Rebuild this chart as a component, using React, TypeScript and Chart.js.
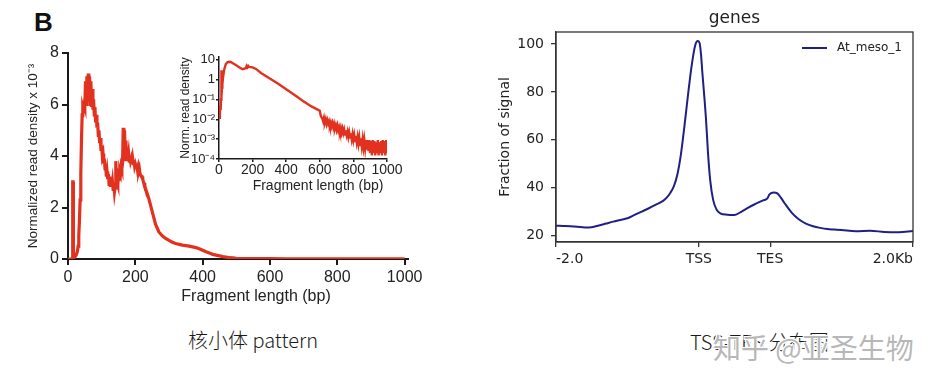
import React, { useEffect, useRef } from "react";
import { Chart, registerables } from "chart.js";
Chart.register(...registerables);

// ---------- Left: fragment length distribution (x 10^-3) ----------
const fragLen = [0,5,10,13,14,15,16,20,24,28,30,32,34,36,38,40,42,44,46,48,50,52,54,56,58,60,62,64,66,68,70,72,74,76,78,80,82,84,86,88,90,92,94,96,98,100,102,104,106,108,110,112,114,116,118,120,122,124,126,128,130,132,134,136,138,140,142,144,146,148,150,152,154,156,158,160,162,164,166,168,170,172,174,176,178,180,182,184,186,188,190,192,194,196,198,200,202,204,206,208,210,212,214,216,218,220,222,224,226,228,230,240,250,260,270,280,290,300,310,320,330,340,350,360,370,380,390,400,410,420,430,440,450,460,470,480,490,500,550,600,650,700,750,800,850,900,950,1000];
const readDensity = [0,0,0,0.02,3.0,3.0,0.05,0.08,0.15,0.3,0.5,0.9,1.5,2.3,3.3,4.6,5.6,5.9,5.8,6.0,5.9,6.9,6.0,7.1,6.1,7.2,6.2,7.1,6.0,6.9,5.9,6.6,5.8,6.2,5.6,5.9,5.3,5.6,5.1,5.3,4.8,5.0,4.5,4.7,4.2,4.4,4.0,4.1,3.7,3.9,3.5,3.6,3.2,3.4,3.1,3.3,2.9,3.2,2.8,3.1,2.8,3.0,2.7,2.9,2.6,2.8,3.8,2.7,3.0,2.9,3.2,3.1,3.4,3.3,3.6,3.5,3.7,5.1,3.8,5.0,3.9,4.6,3.8,4.2,3.9,4.1,3.8,4.0,3.8,3.9,3.7,3.9,3.7,3.8,3.6,3.7,3.6,3.7,3.5,3.6,3.4,3.5,3.3,3.3,3.2,3.2,3.1,3.0,2.95,2.85,2.75,2.35,1.85,1.35,1.05,0.9,0.8,0.72,0.65,0.6,0.57,0.54,0.52,0.5,0.47,0.44,0.4,0.34,0.28,0.23,0.18,0.15,0.12,0.09,0.07,0.05,0.04,0.03,0.02,0.015,0.01,0.008,0.006,0.005,0.004,0.004,0.003,0.003];
const mainXTicks = [0, 200, 400, 600, 800, 1000];
const mainYTicks = [0, 2, 4, 6, 8];

// ---------- Inset: log scale ----------
const insetLen = [0,5,8,10,12,13,14,15,16,18,20,25,30,40,50,60,70,80,100,120,140,160,165,170,175,180,200,220,250,300,350,400,450,500,550,590,600,605,610,615,620,625,630,635,640,645,650,655,660,665,670,675,680,685,690,695,700,705,710,715,720,725,730,735,740,745,750,755,760,765,770,775,780,785,790,795,800,805,810,815,820,825,830,835,840,845,850,855,860,865,870,875,880,885,890,895,900,905,910,915,920,925,930,935,940,945,950,955,960,965,970,975,980,985,990,995,1000];
const insetDensity = [0.012,0.02,0.05,0.03,0.1,2.5,3.0,0.2,0.15,0.4,0.6,1.5,3.0,6.0,7.5,8.0,7.8,7.0,5.5,4.3,3.4,3.8,5.0,4.2,4.9,4.4,4.2,3.5,2.2,1.2,0.65,0.33,0.17,0.085,0.045,0.03,0.027,0.016,0.013,0.011,0.008,0.012,0.007,0.010,0.006,0.009,0.006,0.008,0.005,0.007,0.0045,0.0065,0.004,0.006,0.0035,0.005,0.003,0.0048,0.0028,0.004,0.0025,0.0038,0.0022,0.0034,0.002,0.003,0.0017,0.0028,0.0016,0.0024,0.0013,0.0022,0.0012,0.002,0.001,0.0018,0.0009,0.0016,0.0008,0.0015,0.0007,0.0013,0.0006,0.0012,0.0005,0.0011,0.00045,0.001,0.0004,0.0009,0.00035,0.0009,0.0003,0.0008,0.00025,0.0009,0.0002,0.0008,0.00015,0.0009,0.0002,0.0008,0.00015,0.0007,0.0002,0.0009,0.00015,0.0007,0.0002,0.0008,0.00015,0.0009,0.0002,0.0008,0.00015,0.0009,0.0002];
const insetXTicks = [0, 200, 400, 600, 800, 1000];
const insetYTicks = [1e-4, 1e-3, 1e-2, 1e-1, 1, 10];
const insetYLabels = ["10⁻⁴", "10⁻³", "10⁻²", "10⁻¹", "1", "10"];

// ---------- Right: TSS-TES profile ----------
const profilePos = [0,100,200,300,400,500,600,700,800,900,1000,1100,1200,1300,1400,1500,1550,1600,1650,1700,1750,1800,1850,1900,1950,1985,2010,2030,2050,2080,2100,2130,2160,2200,2250,2300,2400,2500,2600,2700,2800,2900,2960,2990,3050,3100,3150,3200,3300,3400,3500,3600,3700,3800,3900,4000,4200,4400,4600,4800,5000];
const profileSignal = [24.1,24.0,23.9,23.7,23.4,23.5,24.2,25.0,25.8,26.5,27.2,28.6,30.0,31.4,32.9,34.5,35.8,37.8,40.5,45.5,54,66,79,91,99.5,101.2,100.5,96,88,77,69,54,43,35,30.8,29.3,28.7,28.6,30.0,31.8,33.3,34.7,35.5,37.2,38.0,37.6,35.8,33.6,29.6,26.8,25.0,23.9,23.2,22.7,22.5,22.3,21.8,22.0,21.5,21.4,21.9];
const profileTickPos = [0, 2000, 3000, 5000];
const profileTickLabels = ["-2.0", "TSS", "TES", "2.0Kb"];
const profileYTicks = [20, 40, 60, 80, 100];
const profileLabel = "At_meso_1";

const ARIAL = "'Liberation Sans', Arial, sans-serif";
const DEJAVU = "'DejaVu Sans', sans-serif";

const offsetTitle = (text: string, font: string, color: string, dx: number, dy: number) => ({
  id: "offsetTitle",
  afterDraw(chart: any) {
    const { ctx, chartArea } = chart;
    ctx.save();
    ctx.font = font;
    ctx.fillStyle = color;
    ctx.textAlign = "center";
    ctx.textBaseline = "middle";
    ctx.fillText(text, (chartArea.left + chartArea.right) / 2 + dx, chartArea.bottom + dy);
    ctx.restore();
  },
});

const frameAndLegend = {
  id: "frameAndLegend",
  afterDraw(chart: any) {
    const { ctx, chartArea: ca } = chart;
    ctx.save();
    ctx.strokeStyle = "#333";
    ctx.lineWidth = 1.3;
    ctx.strokeRect(ca.left, ca.top, ca.right - ca.left, ca.bottom - ca.top);
    const ds = chart.data.datasets[0];
    const y = ca.top + 16;
    ctx.strokeStyle = ds.borderColor;
    ctx.lineWidth = 2;
    ctx.beginPath();
    ctx.moveTo(ca.right - 111, y);
    ctx.lineTo(ca.right - 86, y);
    ctx.stroke();
    ctx.fillStyle = "#222";
    ctx.font = `12px ${DEJAVU}`;
    ctx.textAlign = "left";
    ctx.textBaseline = "middle";
    ctx.fillText(ds.label, ca.right - 76, y);
    ctx.restore();
  },
};

function axisStyle(color: string, width: number, tickLength: number) {
  return {
    grid: { display: true, drawOnChartArea: false, drawTicks: true, tickLength, color, lineWidth: width },
    border: { display: true, color, width },
  };
}

const plain = (v: any) => String(v);

function mainConfig(): any {
  return {
    type: "line",
    data: {
      datasets: [
        {
          data: fragLen.map((x, i) => ({ x, y: readDensity[i] })),
          borderColor: "#e2321f",
          borderWidth: 3.2,
          pointRadius: 0,
          tension: 0,
        },
      ],
    },
    options: {
      animation: false,
      responsive: false,
      events: [],
      layout: { padding: { left: 0, right: 32, top: 13, bottom: 0 } },
      plugins: { legend: { display: false }, tooltip: { enabled: false } },
      scales: {
        x: {
          type: "linear",
          min: 0,
          max: 1010,
          afterBuildTicks: (s: any) => { s.ticks = mainXTicks.map((v) => ({ value: v })); },
          afterFit: (s: any) => { s.height = 51; },
          ...axisStyle("#1a1a1a", 2, 6),
          ticks: { autoSkip: false, maxRotation: 0, padding: 3, color: "#222", font: { family: ARIAL, size: 16 }, callback: plain },
        },
        y: {
          type: "linear",
          min: 0,
          max: 8,
          afterBuildTicks: (s: any) => { s.ticks = mainYTicks.map((v) => ({ value: v })); },
          afterFit: (s: any) => { s.width = 68; },
          ...axisStyle("#1a1a1a", 2, 6),
          ticks: { autoSkip: false, padding: 3, color: "#222", font: { family: ARIAL, size: 16 }, callback: plain },
          title: {
            display: true,
            text: "Normalized read density x 10⁻³",
            color: "#222",
            font: { family: ARIAL, size: 13.5 },
            padding: { top: 25, bottom: 0 },
          },
        },
      },
    },
    plugins: [offsetTitle("Fragment length (bp)", `16px ${ARIAL}`, "#222", 18, 38)],
  };
}

function insetConfig(): any {
  return {
    type: "line",
    data: {
      datasets: [
        {
          data: insetLen.map((x, i) => ({ x, y: insetDensity[i] })),
          borderColor: "#e2321f",
          borderWidth: 2.4,
          pointRadius: 0,
          tension: 0,
        },
      ],
    },
    options: {
      animation: false,
      responsive: false,
      events: [],
      layout: { padding: { left: 0, right: 33, top: 17, bottom: 0 } },
      plugins: { legend: { display: false }, tooltip: { enabled: false } },
      scales: {
        x: {
          type: "linear",
          min: 0,
          max: 1000,
          afterBuildTicks: (s: any) => { s.ticks = insetXTicks.map((v) => ({ value: v })); },
          afterFit: (s: any) => { s.height = 41; },
          ...axisStyle("#1a1a1a", 1.5, 3),
          ticks: { autoSkip: false, maxRotation: 0, padding: 0, color: "#222", font: { family: ARIAL, size: 14 }, callback: plain },
        },
        y: {
          type: "logarithmic",
          min: 1e-4,
          max: 14,
          afterBuildTicks: (s: any) => { s.ticks = insetYTicks.map((v) => ({ value: v })); },
          afterFit: (s: any) => { s.width = 49; },
          ...axisStyle("#1a1a1a", 1.5, 3),
          ticks: {
            autoSkip: false,
            padding: 1,
            color: "#222",
            font: { family: ARIAL, size: 13 },
            callback: (_v: any, i: number) => insetYLabels[i],
          },
          title: {
            display: true,
            text: "Norm. read density",
            color: "#222",
            font: { family: ARIAL, size: 12 },
            padding: { top: 8, bottom: 0 },
          },
        },
      },
    },
    plugins: [offsetTitle("Fragment length (bp)", `14px ${ARIAL}`, "#222", 15, 27)],
  };
}

function profileConfig(): any {
  return {
    type: "line",
    data: {
      datasets: [
        {
          label: profileLabel,
          data: profilePos.map((x, i) => ({ x, y: profileSignal[i] })),
          borderColor: "#1f1f85",
          borderWidth: 2,
          pointRadius: 0,
          cubicInterpolationMode: "monotone",
        },
      ],
    },
    options: {
      animation: false,
      responsive: false,
      events: [],
      layout: { padding: { left: 0, right: 27, top: 0, bottom: 0 } },
      plugins: {
        legend: { display: false },
        tooltip: { enabled: false },
        title: {
          display: true,
          text: "genes",
          fullSize: false,
          color: "#222",
          font: { family: DEJAVU, size: 17, weight: "normal" },
          padding: { top: 8, bottom: 3.6 },
        },
      },
      scales: {
        x: {
          type: "linear",
          min: 0,
          max: 5000,
          afterBuildTicks: (s: any) => { s.ticks = profileTickPos.map((v) => ({ value: v })); },
          afterFit: (s: any) => { s.height = 48; },
          ...axisStyle("#333", 1.3, 5),
          ticks: {
            autoSkip: false,
            maxRotation: 0,
            align: "inner",
            padding: 4,
            color: "#222",
            font: { family: DEJAVU, size: 14 },
            callback: (_v: any, i: number) => profileTickLabels[i],
          },
        },
        y: {
          type: "linear",
          min: 17.3,
          max: 105,
          afterBuildTicks: (s: any) => { s.ticks = profileYTicks.map((v) => ({ value: v })); },
          afterFit: (s: any) => { s.width = 76; },
          ...axisStyle("#333", 1.3, 5),
          ticks: { autoSkip: false, padding: 7, color: "#222", font: { family: DEJAVU, size: 14 }, callback: plain },
          title: {
            display: true,
            text: "Fraction of signal",
            color: "#222",
            font: { family: DEJAVU, size: 14 },
            padding: { top: 17, bottom: 0 },
          },
        },
      },
    },
    plugins: [frameAndLegend],
  };
}

function ChartBox({ left, top, width, height, make }: { left: number; top: number; width: number; height: number; make: () => any }) {
  const ref = useRef<HTMLCanvasElement | null>(null);
  useEffect(() => {
    const chart = new Chart(ref.current as HTMLCanvasElement, make());
    return () => chart.destroy();
  }, []);
  return (
    <div style={{ position: "absolute", left, top, width, height }}>
      <canvas ref={ref} width={width} height={height} style={{ display: "block", width, height }} />
    </div>
  );
}

export default function App() {
  const caption: React.CSSProperties = {
    position: "absolute",
    fontFamily: "'Noto Sans CJK SC', 'Noto Sans', sans-serif",
    fontWeight: 300,
    fontSize: 20,
    lineHeight: "20px",
    color: "#1a1a1a",
    whiteSpace: "nowrap",
  };
  return (
    <div style={{ position: "absolute", left: 0, top: 0, width: 940, height: 386, background: "#fff", overflow: "hidden" }}>
      <div
        style={{
          position: "absolute",
          left: 34,
          top: 9,
          fontFamily: ARIAL,
          fontWeight: "bold",
          fontSize: 26,
          lineHeight: "26px",
          color: "#111",
        }}
      >
        B
      </div>
      <ChartBox left={0} top={40} width={440} height={270} make={mainConfig} />
      <ChartBox left={170} top={40} width={250} height={160} make={insetConfig} />
      <ChartBox left={480} top={0} width={460} height={290} make={profileConfig} />
      <div style={{ ...caption, left: 188, top: 330 }}>核小体 pattern</div>
      <div style={{ ...caption, left: 690, top: 332 }}>TSS-TES 分布图</div>
      <div
        style={{
          ...caption,
          left: 713,
          top: 333,
          fontSize: 28,
          lineHeight: "28px",
          fontWeight: 400,
          color: "rgba(160,160,160,0.75)",
          textShadow: "1px 1px 0 #fff, -1px -1px 0 #fff, 1px -1px 0 #fff, -1px 1px 0 #fff",
        }}
      >
        知乎 @亚圣生物
      </div>
    </div>
  );
}
